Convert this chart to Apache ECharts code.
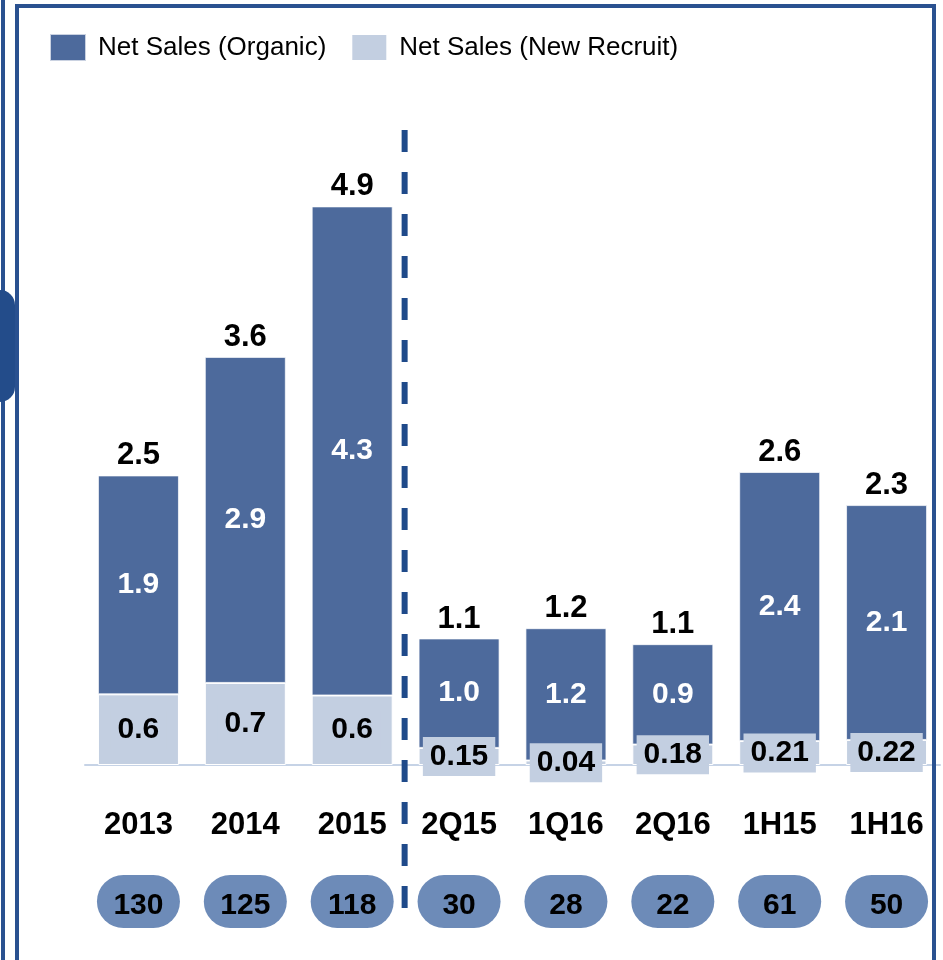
<!DOCTYPE html>
<html>
<head>
<meta charset="utf-8">
<script src="https://cdn.jsdelivr.net/npm/echarts@6/dist/echarts.min.js"></script>
<style>
  html, body { margin: 0; padding: 0; background: #fff; }
  #chart { width: 943px; height: 960px; }
</style>
</head>
<body>
<div id="chart"></div>
<script>
const categories = ['2013', '2014', '2015', '2Q15', '1Q16', '2Q16', '1H15', '1H16'];
const organicSales = [1.92, 2.86, 4.29, 0.96, 1.16, 0.88, 2.36, 2.06];
const newRecruitSales = [0.62, 0.72, 0.61, 0.15, 0.04, 0.18, 0.21, 0.22];
const badgeValues = ['130', '125', '118', '30', '28', '22', '61', '50'];
const seriesNames = ['Net Sales (Organic)', 'Net Sales (New Recruit)'];

const FONT = '"Liberation Sans", Arial, sans-serif';
const DARK = '#4d6a9c';
const LIGHT = '#c3cfe1';
const BORDER = '#2a5190';

// Totals sit on top of the stack; they come straight from the two series.
const totals = organicSales.map((v, i) => v + newRecruitSales[i]);

function recruitText(v) {
  return v >= 0.5 ? v.toFixed(1) : v.toFixed(2);
}

const chart = echarts.init(document.getElementById('chart'));

chart.setOption({
  backgroundColor: '#fff',
  animation: false,
  textStyle: { fontFamily: FONT },
  legend: {
    data: seriesNames,
    left: 44, top: 28,
    itemWidth: 36, itemHeight: 27, itemGap: 24,
    icon: 'rect',
    textStyle: { fontSize: 26, color: '#000', fontFamily: FONT, padding: [0, 0, 0, 7] },
  },
  grid: { left: 85, right: 3, top: 81, bottom: 195 },
  xAxis: [
    {
      type: 'category',
      data: categories,
      axisLine: { lineStyle: { color: '#c6d3e6', width: 2 } },
      axisTick: { show: false },
      axisLabel: { fontSize: 31, fontWeight: 'bold', color: '#000', margin: 45, fontFamily: FONT },
    },
    {
      type: 'category',
      data: badgeValues,
      position: 'bottom',
      axisLine: { show: false },
      axisTick: { show: false },
      axisLabel: {
        margin: 110,
        fontSize: 30, fontWeight: 'bold', color: '#000', fontFamily: FONT,
        backgroundColor: '#6d8bb8',
        borderRadius: 27,
        width: 83, height: 45, lineHeight: 45,
        padding: [8, 0, 0, 0],
        align: 'center',
      },
    },
  ],
  yAxis: { type: 'value', min: 0, max: 6, show: false, splitLine: { show: false } },
  series: [
    {
      name: seriesNames[1],
      type: 'bar',
      stack: 'sales',
      barWidth: 81,
      barGap: '-100%',
      itemStyle: { color: LIGHT, borderColor: '#fff', borderWidth: 1 },
      label: {
        show: true, position: 'inside',
        formatter: p => recruitText(p.value),
        fontSize: 30, fontWeight: 'bold', color: '#000', fontFamily: FONT,
        backgroundColor: LIGHT, padding: [4, 7], lineHeight: 31,
      },
      data: newRecruitSales,
      z: 3,
    },
    {
      name: seriesNames[0],
      type: 'bar',
      stack: 'sales',
      barWidth: 81,
      barGap: '-100%',
      itemStyle: { color: DARK, borderColor: 'rgba(255,255,255,0.7)', borderWidth: 1 },
      label: {
        show: true, position: 'inside',
        formatter: p => p.value.toFixed(1),
        fontSize: 30, fontWeight: 'bold', color: '#fff', fontFamily: FONT,
      },
      data: organicSales,
      z: 2,
    },
    {
      name: 'total',
      type: 'bar',
      barWidth: 81,
      barGap: '-100%',
      silent: true,
      itemStyle: { color: 'rgba(0,0,0,0)' },
      label: {
        show: true, position: 'top', distance: 4,
        formatter: p => p.value.toFixed(1),
        fontSize: 31, fontWeight: 'bold', color: '#000', fontFamily: FONT,
      },
      data: totals,
      z: 1,
    },
  ],
});

// Divider between the annual and the interim periods, on the category boundary.
const xa = chart.convertToPixel({ xAxisIndex: 0 }, categories[2]);
const xb = chart.convertToPixel({ xAxisIndex: 0 }, categories[3]);
const divX = (xa + xb) / 2 - 1;

chart.setOption({
  graphic: [
    { type: 'rect', shape: { x: 1, y: 0, width: 4, height: 960 }, style: { fill: BORDER }, z: 10 },
    { type: 'rect', shape: { x: 15, y: 4, width: 4, height: 956 }, style: { fill: BORDER }, z: 10 },
    { type: 'rect', shape: { x: 15, y: 4, width: 921, height: 4 }, style: { fill: BORDER }, z: 10 },
    { type: 'rect', shape: { x: 932, y: 4, width: 4, height: 956 }, style: { fill: BORDER }, z: 10 },
    { type: 'rect', shape: { x: -15, y: 290, width: 30, height: 112, r: 15 }, style: { fill: '#234c8a' }, z: 10 },
    {
      type: 'line',
      shape: { x1: divX, y1: 130, x2: divX, y2: 910 },
      style: { stroke: '#1f4a8a', lineWidth: 6, lineDash: [22, 20] },
      z: 10,
    },
  ],
});
</script>
</body>
</html>
